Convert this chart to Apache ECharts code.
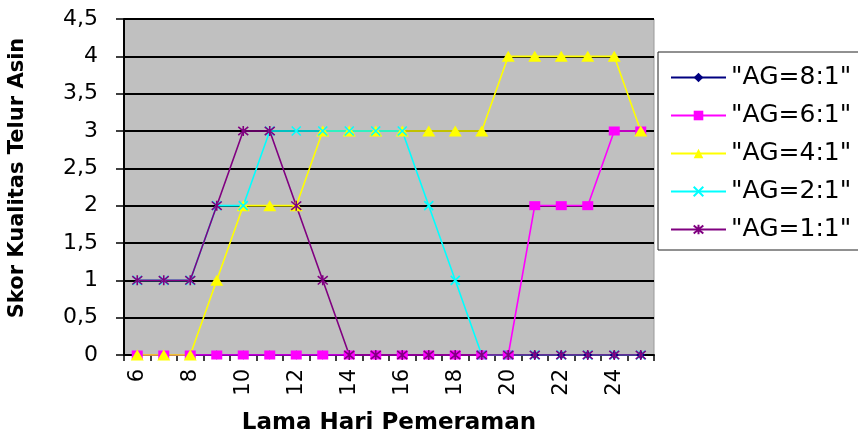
<!DOCTYPE html>
<html>
<head>
<meta charset="utf-8">
<script src="https://cdn.jsdelivr.net/npm/echarts@6/dist/echarts.min.js"></script>
<style>
  html, body { margin: 0; padding: 0; background: #fff; }
  #chart { width: 858px; height: 434px; }
</style>
</head>
<body>
<div id="chart"></div>
<script>
// Incubation days on the x axis
const days = ['6','7','8','9','10','11','12','13','14','15','16','17','18','19','20','21','22','23','24','25'];

// Salted-egg quality scores for each ash:brick-dust ratio
const ag81 = [0,0,0,0,0,0,0,0,0,0,0,0,0,0,0,0,0,0,0,0];
const ag61 = [0,0,0,0,0,0,0,0,0,0,0,0,0,0,0,2,2,2,3,3];
const ag41 = [0,0,0,1,2,2,2,3,3,3,3,3,3,3,4,4,4,4,4,3];
const ag21 = [1,1,1,2,2,3,3,3,3,3,3,2,1,0,0,0,0,0,0,0];
const ag11 = [1,1,1,2,3,3,2,1,0,0,0,0,0,0,0,0,0,0,0,0];

const seriesNames = ['"AG=8:1"', '"AG=6:1"', '"AG=4:1"', '"AG=2:1"', '"AG=1:1"'];

const FONT = 'DejaVu Sans';
const crossPath = 'path://M0,0L10,10M10,0L0,10';
const starPath = 'path://M0,0L10,10M10,0L0,10M5,-1L5,11';

function lineSeries(name, data, color, symbol, size, stroke) {
  return {
    name: name,
    type: 'line',
    data: data,
    symbol: symbol,
    symbolSize: size,
    showAllSymbol: true,
    lineStyle: { color: color, width: 1.6 },
    itemStyle: stroke
      ? { color: color, borderColor: color, borderWidth: 1.6 }
      : { color: color, borderWidth: 0 },
    emphasis: { disabled: true },
    animation: false
  };
}

const chart = echarts.init(document.getElementById('chart'), null, { renderer: 'canvas' });

chart.setOption({
  backgroundColor: '#ffffff',
  textStyle: { fontFamily: FONT },
  grid: {
    left: 124, right: 204, top: 19, bottom: 79,
    containLabel: false,
    outerBoundsMode: 'none',
    show: true, backgroundColor: '#c0c0c0', borderColor: '#9a9a9a', borderWidth: 1
  },
  legend: {
    orient: 'vertical',
    left: 658, top: 52,
    padding: [13, 12, 8, 12],
    itemWidth: 55, itemHeight: 12,
    itemGap: 13,
    backgroundColor: '#ffffff',
    borderColor: '#222', borderWidth: 1,
    textStyle: { fontFamily: FONT, fontSize: 25, color: '#000', lineHeight: 25 },
    data: seriesNames
  },
  xAxis: {
    type: 'category',
    data: days,
    boundaryGap: true,
    name: 'Lama Hari Pemeraman',
    nameLocation: 'middle',
    nameGap: 57,
    nameTextStyle: { fontFamily: FONT, fontWeight: 'bold', fontSize: 23, color: '#000' },
    axisLine: { lineStyle: { color: '#000', width: 2 } },
    axisTick: { show: true, interval: 0, length: 6, lineStyle: { color: '#000', width: 1.5 } },
    axisLabel: {
      interval: 1, rotate: 90, margin: 14,
      fontFamily: FONT, fontSize: 21, color: '#000'
    },
    splitLine: { show: false }
  },
  yAxis: {
    type: 'value',
    min: 0, max: 4.5, interval: 0.5,
    name: 'Skor Kualitas Telur Asin',
    nameLocation: 'middle',
    nameGap: 96,
    nameTextStyle: {
      fontFamily: FONT, fontWeight: 'bold', fontSize: 21, color: '#000',
      padding: [0, 0, 0, 18]
    },
    axisLine: { show: true, lineStyle: { color: '#000', width: 2 } },
    axisTick: { show: true, length: 8, lineStyle: { color: '#000', width: 1.5 } },
    axisLabel: {
      margin: 26, fontFamily: FONT, fontSize: 22, color: '#000',
      formatter: function (v) { return String(v).replace('.', ','); }
    },
    splitLine: { show: true, lineStyle: { color: '#000', width: 2 } }
  },
  series: [
    lineSeries(seriesNames[0], ag81, '#000080', 'diamond', 9, false),
    lineSeries(seriesNames[1], ag61, '#ff00ff', 'rect', [11, 9], false),
    lineSeries(seriesNames[2], ag41, '#ffff00', 'triangle', [13, 11], false),
    lineSeries(seriesNames[3], ag21, '#00ffff', crossPath, 9, true),
    lineSeries(seriesNames[4], ag11, '#800080', starPath, 10, true)
  ]
});
</script>
</body>
</html>
